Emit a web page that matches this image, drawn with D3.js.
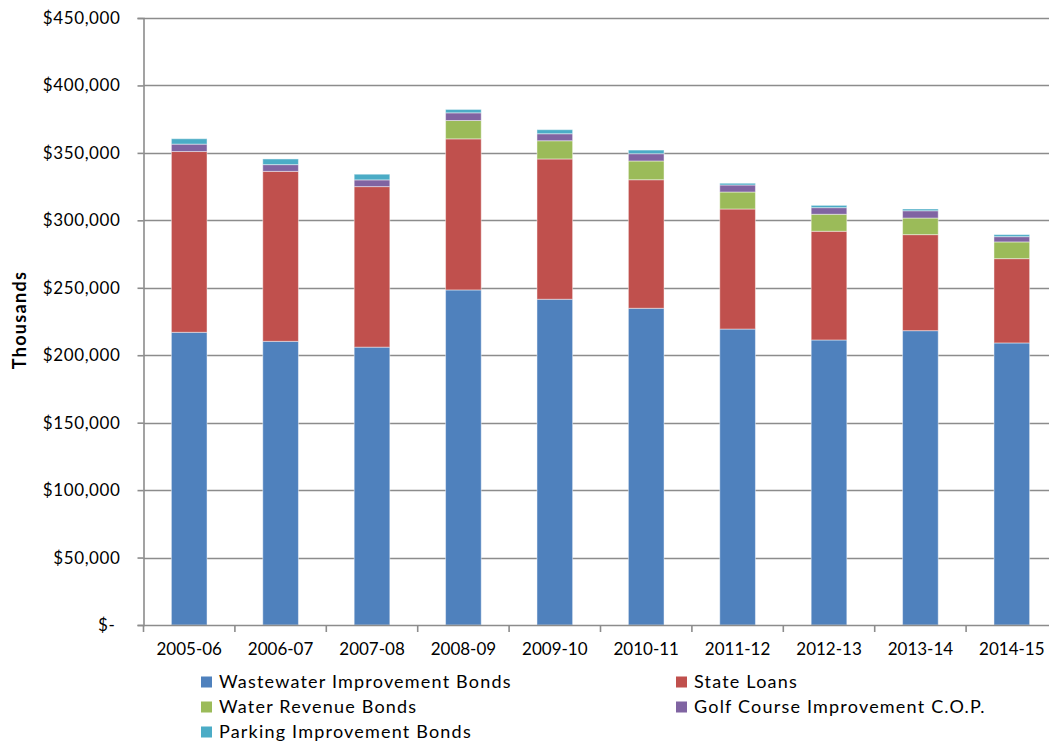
<!DOCTYPE html>
<html>
<head>
<meta charset="utf-8">
<script src="https://cdn.jsdelivr.net/npm/d3@7"></script>
<style>
  html, body { margin: 0; padding: 0; background: #ffffff; }
  svg { display: block; }
  text { font-family: Lato, "Open Sans", "Noto Sans", sans-serif; fill: #000; }
</style>
</head>
<body>
<svg id="chart" width="1049" height="745"></svg>
<script>
// Fiscal years
const years = ["2005-06", "2006-07", "2007-08", "2008-09", "2009-10",
               "2010-11", "2011-12", "2012-13", "2013-14", "2014-15"];

// Outstanding debt by type (thousands of dollars)
const wastewaterBonds = [217000, 210300, 206000, 248400, 241500, 234800, 219400, 211300, 218200, 209100];
const stateLoans      = [134000, 126000, 119000, 112000, 104000,  95300,  89000,  80600,  71200,  62500];
const waterBonds      = [     0,      0,      0,  13600,  13500,  13900,  12600,  12600,  12300,  12400];
const golfCOP         = [  5500,   5000,   5000,   5700,   5200,   5400,   5200,   4900,   5400,   3900];
const parkingBonds    = [  4000,   4200,   4200,   2500,   3000,   2700,   1300,   1700,   1300,   1500];

const seriesNames = ["Wastewater Improvement Bonds", "State Loans", "Water Revenue Bonds",
                     "Golf Course Improvement C.O.P.", "Parking Improvement Bonds"];
const seriesColors = ["#4F81BD", "#C0504D", "#9BBB59", "#8064A2", "#4BACC6"];

const yTicks = [0, 50000, 100000, 150000, 200000, 250000, 300000, 350000, 400000, 450000];

// Table for the stack layout
const seriesValues = [wastewaterBonds, stateLoans, waterBonds, golfCOP, parkingBonds];
const rows = years.map((y, i) => {
  const r = { year: y };
  seriesNames.forEach((n, s) => { r[n] = seriesValues[s][i]; });
  return r;
});

const svg = d3.select("#chart");
const plot = { left: 143.5, right: 1057.5, top: 18, bottom: 625 };

const x = d3.scaleBand().domain(years).range([plot.left, plot.right]).paddingInner(0.61).paddingOuter(0.305);
const y = d3.scaleLinear().domain([0, 450000]).range([plot.bottom, plot.top]);

const fmt = d3.format(",");
const tickLabel = v => v === 0 ? "$-" : "$" + fmt(v);

// Horizontal gridlines
svg.append("g")
  .selectAll("line")
  .data(yTicks.filter(v => v > 0))
  .join("line")
  .attr("x1", plot.left).attr("x2", plot.right)
  .attr("y1", d => Math.round(y(d)) + 0.5).attr("y2", d => Math.round(y(d)) + 0.5)
  .attr("stroke", "#8c8c8c").attr("stroke-width", 1.6);

// Stacked bars
const stack = d3.stack().keys(seriesNames);
const layers = stack(rows);

svg.append("g")
  .selectAll("g")
  .data(layers)
  .join("g")
  .attr("fill", (d, i) => seriesColors[i])
  .selectAll("rect")
  .data(d => d.filter(p => p[1] - p[0] > 0))
  .join("rect")
  .attr("x", d => x(d.data.year))
  .attr("width", x.bandwidth())
  .attr("y", d => y(d[1]))
  .attr("height", d => y(d[0]) - y(d[1]))
  .attr("stroke", "rgba(255,255,255,0.45)")
  .attr("stroke-width", 1);

// Y axis
const yAxis = d3.axisLeft(y).tickValues(yTicks).tickFormat(tickLabel).tickSize(6).tickPadding(17);
const gy = svg.append("g").attr("transform", `translate(${plot.left},0)`).call(yAxis);
gy.select(".domain").attr("stroke", "#8c8c8c").attr("stroke-width", 1.6);
gy.selectAll(".tick line").attr("stroke", "#8c8c8c").attr("stroke-width", 1.6);
gy.selectAll(".tick text")
  .attr("font-size", 17)
  .attr("letter-spacing", 0.6)
  .attr("font-family", "Lato, 'Open Sans', sans-serif")
  .attr("fill", "#000")
  .attr("dx", d => d === 0 ? -5 : 0);

// X axis with ticks at category boundaries
const xAxis = d3.axisBottom(x).tickSize(0).tickPadding(18);
const gx = svg.append("g").attr("transform", `translate(0,${plot.bottom})`).call(xAxis);
gx.select(".domain").attr("stroke", "#8c8c8c").attr("stroke-width", 1.6);
gx.selectAll(".tick text")
  .attr("font-size", 17)
  .attr("font-family", "Lato, 'Open Sans', sans-serif")
  .attr("fill", "#000");
const step = x.step();
gx.append("g")
  .selectAll("line")
  .data(d3.range(years.length + 1))
  .join("line")
  .attr("x1", i => plot.left + i * step).attr("x2", i => plot.left + i * step)
  .attr("y1", 0).attr("y2", 7)
  .attr("stroke", "#8c8c8c").attr("stroke-width", 1.6);

// Y axis title
svg.append("text")
  .attr("transform", "translate(26,320) rotate(-90)")
  .attr("text-anchor", "middle")
  .attr("font-size", 18)
  .attr("letter-spacing", 1.3)
  .attr("font-weight", "bold")
  .text("Thousands");

// Legend
const legendPos = [[201, 682], [676, 682], [201, 707], [676, 707], [201, 732]];
const legend = svg.append("g")
  .selectAll("g")
  .data(seriesNames)
  .join("g")
  .attr("transform", (d, i) => `translate(${legendPos[i][0]},${legendPos[i][1]})`);
legend.append("rect")
  .attr("x", 0).attr("y", -5.5).attr("width", 11).attr("height", 11)
  .attr("fill", (d, i) => seriesColors[i]);
legend.append("text")
  .attr("x", 18).attr("y", 0).attr("dy", "0.35em")
  .attr("font-size", 18)
  .attr("letter-spacing", 1.2)
  .text(d => d);
</script>
</body>
</html>
